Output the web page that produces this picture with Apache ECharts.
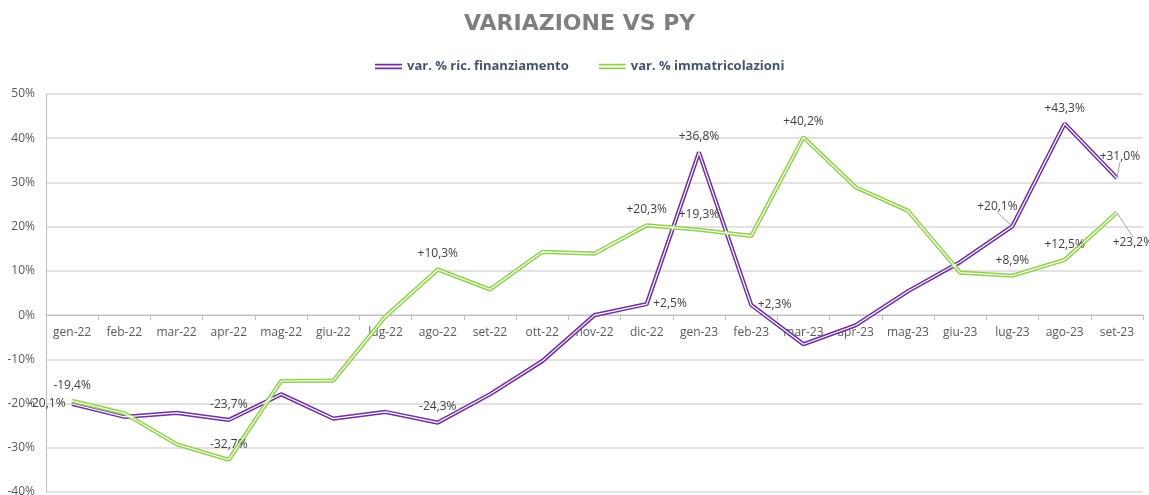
<!DOCTYPE html>
<html>
<head>
<meta charset="utf-8">
<script src="https://cdn.jsdelivr.net/npm/echarts@6/dist/echarts.min.js"></script>
<style>html,body{margin:0;padding:0;background:#fff}#c{width:1149px;height:495px}</style>
</head>
<body>
<div id="c"></div>
<script>
const categories = ['gen-22','feb-22','mar-22','apr-22','mag-22','giu-22','lug-22','ago-22','set-22','ott-22','nov-22','dic-22','gen-23','feb-23','mar-23','apr-23','mag-23','giu-23','lug-23','ago-23','set-23'];
const finanziamento = [-20.1,-23.0,-22.1,-23.7,-17.9,-23.4,-21.9,-24.3,-17.9,-10.4,0.0,2.5,36.8,2.3,-6.6,-2.3,5.4,12.0,20.1,43.3,31.0];
const immatricolazioni = [-19.4,-22.2,-29.2,-32.7,-14.9,-14.8,-0.3,10.3,5.8,14.3,13.9,20.3,19.3,17.9,40.2,28.9,23.6,9.6,8.9,12.5,23.2];
const yTicks = [-40,-30,-20,-10,0,10,20,30,40,50];
const labeledFin = [0,3,7,11,12,13,18,19,20];
const labeledImm = [0,3,7,11,12,14,18,19,20];

const seriesNames = ['var. % ric. finanziamento','var. % immatricolazioni'];
const colors = ['#7030A0','#92D050'];

const Y_MIN = -40, Y_MAX = 50;
const GRID_TOP = 94, GRID_BOTTOM = 3, H = 495;

// label styling (positions) per point
const finLabelStyle = {
  0: {position:'left', distance:6, offset:[0,9]},
  11: {position:'right', distance:6, offset:[0,-4]},
  13: {position:'right', distance:6, offset:[0,-10]}
};
const immLabelStyle = {};
const finMoves = {18:{dx:-15, dy:-4}, 20:{dx:3, dy:-6}};
const immMoves = {20:{dx:16, dy:46}};

function fmt(v){ return (v>0?'+':'') + v.toFixed(1).replace('.', ',') + '%'; }

function buildData(values, labeled, styles, moves){
  return values.map((v,i)=>{
    if(labeled.indexOf(i) < 0) return {value:v};
    const st = styles[i] || {position:'top', distance:9};
    const item = {value:v, label:Object.assign({show:true, formatter:fmt(v)}, st)};
    if(moves[i]) item.labelLine = {show:true, lineStyle:{color:'#A6A6A6', width:1}};
    return item;
  });
}

const labelFont = {color:'#404040', fontSize:12, fontFamily:'Open Sans'};

function mainSeries(idx, values, labeled, styles, moves){
  return {
    name: seriesNames[idx], type:'line', data: buildData(values, labeled, styles, moves),
    symbol:'circle', symbolSize:1, showAllSymbol:true,
    lineStyle:{color:colors[idx], width:4.2},
    itemStyle:{color:colors[idx]},
    label: Object.assign({show:false}, labelFont),
    labelLine:{show:false},
    labelLayout: function(p){ const m = moves[p.dataIndex]; return m ? {dx:m.dx, dy:m.dy} : {}; },
    z: 2, animation:false
  };
}
function innerSeries(values){
  return {
    name:'_inner', type:'line', data: values, symbol:'none', silent:true,
    lineStyle:{color:'#ffffff', width:1.2}, z:3, animation:false, tooltip:{show:false}
  };
}

const gridH = H - GRID_TOP - GRID_BOTTOM;
const zeroOffset = gridH * (0 - Y_MIN) / (Y_MAX - Y_MIN);

const chart = echarts.init(document.getElementById('c'), null, {renderer:'canvas'});
chart.setOption({
  backgroundColor:'#ffffff',
  animation:false,
  title:{
    text:'VARIAZIONE VS PY', left:459, top:8,
    textStyle:{color:'#7F7F7F', fontSize:22, fontWeight:'bold', fontFamily:'DejaVu Sans'}
  },
  legend:{
    data: seriesNames, left:370, top:55, itemGap:30, itemWidth:27, itemHeight:6,
    icon:'path://M0,0H30V2H0Z M0,4H30V6H0Z',
    textStyle:{color:'#44546A', fontSize:13, fontWeight:'bold', fontFamily:'Open Sans'}
  },
  grid:{left:46, right:6, top:GRID_TOP, bottom:GRID_BOTTOM, containLabel:false, outerBoundsMode:'none'},
  xAxis:{
    type:'category', data:categories, boundaryGap:true, position:'bottom', offset:-zeroOffset,
    axisLine:{onZero:false, lineStyle:{color:'#BFBFBF', width:1}},
    axisTick:{show:true, length:5, lineStyle:{color:'#BFBFBF'}},
    axisLabel:{color:'#595959', fontSize:12, fontFamily:'Open Sans', margin:11, interval:0},
    splitLine:{show:false}
  },
  yAxis:{
    type:'value', min:Y_MIN, max:Y_MAX, interval:10,
    axisLine:{show:true, lineStyle:{color:'#BFBFBF', width:1}},
    axisTick:{show:false},
    axisLabel:{color:'#595959', fontSize:12, fontFamily:'Open Sans', margin:11,
      formatter:function(v){ return yTicks.indexOf(v) >= 0 ? v + '%' : ''; }},
    splitLine:{show:true, lineStyle:{color:'#D9D9D9', width:1.5}}
  },
  series:[
    mainSeries(0, finanziamento, labeledFin, finLabelStyle, finMoves),
    innerSeries(finanziamento),
    mainSeries(1, immatricolazioni, labeledImm, immLabelStyle, immMoves),
    innerSeries(immatricolazioni)
  ]
});
</script>
</body>
</html>
